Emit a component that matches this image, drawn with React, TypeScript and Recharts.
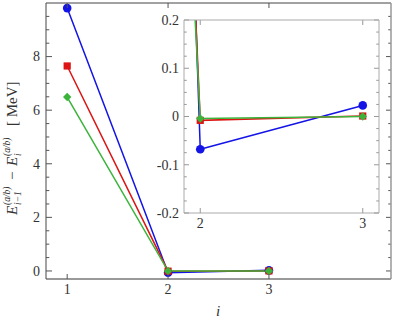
import { LineChart, Line, XAxis, YAxis } from "recharts";

// energy differences per step i (MeV)
const steps = [1, 2, 3];
const blueVals = [9.81, -0.068, 0.023];
const redVals = [7.65, -0.008, 0.001];
const greenVals = [6.49, -0.004, 0.0];

const mainXTicks = [1, 2, 3];
const mainYTicks = [0, 0.5, 1, 1.5, 2, 2.5, 3, 3.5, 4, 4.5, 5, 5.5, 6, 6.5, 7, 7.5, 8, 8.5, 9, 9.5];
const mainYLabels = [0, 2, 4, 6, 8];

const insetXTicks = [2, 3];
const insetYTicks = [
  -0.2, -0.175, -0.15, -0.125, -0.1, -0.075, -0.05, -0.025, 0, 0.025, 0.05, 0.075, 0.1, 0.125, 0.15,
  0.175, 0.2,
];
const insetYLabels = [-0.2, -0.1, 0, 0.1, 0.2];

const BLUE = "#1414e6";
const RED = "#dc1414";
const GREEN = "#3cb43c";
const FONT = "Liberation Serif";

// plot boxes (pixels relative to each chart)
const MAIN = { left: 46, top: 3, right: 391, bottom: 279 };
const INSET = { left: 34, top: 10, right: 229, bottom: 203 };

const data = steps.map((s, k) => ({ i: s, blue: blueVals[k], red: redVals[k], green: greenVals[k] }));

const circleDot = (p: any) => <circle key={p.index} cx={p.cx} cy={p.cy} r={4.3} fill={BLUE} />;
const squareDot = (p: any) => <rect key={p.index} x={p.cx - 3.6} y={p.cy - 3.6} width={7.2} height={7.2} fill={RED} />;
const diamondDot = (p: any) => (
  <path
    key={p.index}
    d={`M${p.cx},${p.cy - 4.2}L${p.cx + 4.2},${p.cy}L${p.cx},${p.cy + 4.2}L${p.cx - 4.2},${p.cy}Z`}
    fill={GREEN}
  />
);

// y tick: mark on the left edge and mirrored mark on the right edge
function yTick(box: any, margin: number, majors: number[], lenL: number, lenR: number, color: string, fontSize: number) {
  return (props: any) => {
    const { x, y, payload } = props;
    const v = payload.value;
    const major = majors.includes(v);
    const a = major ? lenL : lenL * 0.55;
    const b = major ? lenR : lenR * 0.55;
    const ax = x + margin;
    return (
      <g>
        <line x1={ax} x2={ax + a} y1={y} y2={y} stroke={color} />
        <line x1={box.right} x2={box.right - b} y1={y} y2={y} stroke={color} />
        {major && (
          <text x={x} y={y} dy="0.35em" textAnchor="end" fontSize={fontSize} fontFamily={FONT} fill="#333">
            {String(v)}
          </text>
        )}
      </g>
    );
  };
}

// x tick: mark on the bottom edge and mirrored mark on the top edge
function xTick(box: any, margin: number, len: number, color: string, fontSize: number) {
  return (props: any) => {
    const { x, y, payload } = props;
    const ay = y - margin;
    return (
      <g>
        <line x1={x} x2={x} y1={ay} y2={ay - len} stroke={color} />
        <line x1={x} x2={x} y1={box.top} y2={box.top + len} stroke={color} />
        <text x={x} y={y} dy="0.71em" textAnchor="middle" fontSize={fontSize} fontFamily={FONT} fill="#333">
          {String(payload.value)}
        </text>
      </g>
    );
  };
}

function series() {
  return [
    <Line key="b" type="linear" dataKey="blue" stroke={BLUE} strokeWidth={1.5} dot={circleDot} activeDot={false} isAnimationActive={false} />,
    <Line key="r" type="linear" dataKey="red" stroke={RED} strokeWidth={1.5} dot={squareDot} activeDot={false} isAnimationActive={false} />,
    <Line key="g" type="linear" dataKey="green" stroke={GREEN} strokeWidth={1.5} dot={diamondDot} activeDot={false} isAnimationActive={false} />,
  ];
}

export default function App() {
  return (
    <div style={{ position: "absolute", left: 0, top: 0, width: 395, height: 318, background: "#fff", fontFamily: FONT }}>
      <LineChart width={395} height={318} data={data} margin={{ top: 3, right: 4, bottom: 0, left: 0 }}>
        <XAxis
          dataKey="i"
          type="number"
          domain={[0.79, 4.21]}
          ticks={mainXTicks}
          interval={0}
          height={39}
          tickSize={0}
          tickMargin={5}
          axisLine={{ stroke: "#999", strokeWidth: 2 }}
          tickLine={false}
          tick={xTick(MAIN, 5, 5, "#555", 14)}
        />
        <YAxis
          type="number"
          domain={[-0.3, 10]}
          ticks={mainYTicks}
          interval={0}
          width={46}
          tickSize={0}
          tickMargin={6}
          axisLine={{ stroke: "#444" }}
          tickLine={false}
          tick={yTick(MAIN, 6, mainYLabels, 6, 5, "#555", 14)}
        />
        {series()}
      </LineChart>

      <div style={{ position: "absolute", left: 150, top: 10 }}>
        <LineChart width={235} height={220} data={data} margin={{ top: 10, right: 6, bottom: 0, left: 0 }}>
          <XAxis
            dataKey="i"
            type="number"
            domain={[1.9, 3.1]}
            allowDataOverflow
            ticks={insetXTicks}
            interval={0}
            height={17}
            tickSize={0}
            tickMargin={5}
            axisLine={{ stroke: "#aaa" }}
            tickLine={false}
            tick={xTick(INSET, 5, 5, "#999", 14)}
          />
          <YAxis
            type="number"
            domain={[-0.2, 0.2]}
            allowDataOverflow
            ticks={insetYTicks}
            interval={0}
            width={34}
            tickSize={0}
            tickMargin={5}
            axisLine={{ stroke: "#aaa" }}
            tickLine={false}
            tick={yTick(INSET, 5, insetYLabels, 5, 5, "#999", 14)}
          />
          {series()}
        </LineChart>
        <svg width={235} height={220} style={{ position: "absolute", left: 0, top: 0, pointerEvents: "none" }}>
          <line x1={INSET.left} x2={INSET.right} y1={INSET.top} y2={INSET.top} stroke="#aaa" />
          <line x1={INSET.right} x2={INSET.right} y1={INSET.top} y2={INSET.bottom} stroke="#aaa" />
        </svg>
      </div>

      <svg width={395} height={318} style={{ position: "absolute", left: 0, top: 0, pointerEvents: "none" }}>
        <line x1={MAIN.left} x2={MAIN.right} y1={MAIN.top} y2={MAIN.top} stroke="#444" />
        <line x1={MAIN.right} x2={MAIN.right} y1={MAIN.top} y2={MAIN.bottom} stroke="#999" strokeWidth={1.5} />
        <text x={218} y={316} fontSize={15} fontStyle="italic" fontFamily={FONT} fill="#333" textAnchor="middle">
          i
        </text>
        <g transform="translate(17,147) rotate(-90)" fontFamily={FONT} fill="#333">
          <text x={-68} y={0} fontSize={15} fontStyle="italic">E</text>
          <text x={-58} y={-7} fontSize={9.5} fontStyle="italic">(a/b)</text>
          <text x={-58} y={4} fontSize={9.5} fontStyle="italic">i−1</text>
          <text x={-33} y={0} fontSize={15}>−</text>
          <text x={-19} y={0} fontSize={15} fontStyle="italic">E</text>
          <text x={-9} y={-7} fontSize={9.5} fontStyle="italic">(a/b)</text>
          <text x={-9} y={4} fontSize={9.5} fontStyle="italic">i</text>
          <text x={21} y={0} fontSize={15}>[ MeV]</text>
        </g>
      </svg>
    </div>
  );
}
